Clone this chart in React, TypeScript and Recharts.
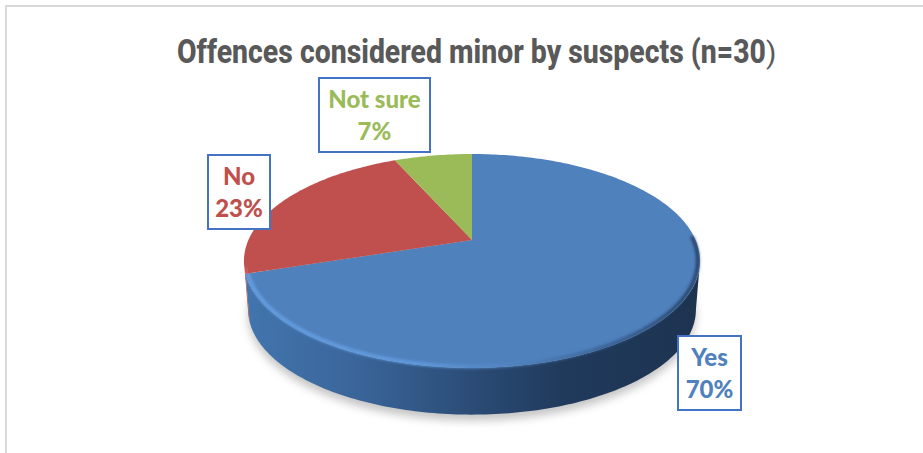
import React from "react";
import { PieChart, Pie, Cell } from "recharts";

const categories = ["Yes", "No", "Not sure"];
const counts = [21, 7, 2];
const sliceColors = ["#4f81bd", "#c0504d", "#9bbb59"];
const rows = categories.map((name, i) => ({ name, value: counts[i] }));

const boxes = [
  { x: 678, y: 336, w: 63, h: 74 },
  { x: 208, y: 155, w: 62, h: 74 },
  { x: 319, y: 78, w: 111, h: 74 },
];

const SQUASH = 0.46;
const PERSPECTIVE = 0.196;
const DEPTH = 49;
const BASE_SCALE = 0.982;
const FRONT_FROM = 101.3;
const FRONT_TO = 255;

function pt(cx: number, cy: number, R: number, deg: number, s = 1, dy = 0) {
  const t = (deg * Math.PI) / 180;
  const a = Math.sin(t);
  const b = -Math.cos(t);
  const d = 1 - PERSPECTIVE * b;
  return [cx + (s * R * a) / d, cy + dy + (s * R * SQUASH * b) / d];
}

function arc(cx: number, cy: number, R: number, from: number, to: number, s = 1, dy = 0) {
  const out: number[][] = [];
  const n = Math.max(2, Math.ceil(Math.abs(to - from)));
  for (let i = 0; i <= n; i++) out.push(pt(cx, cy, R, from + ((to - from) * i) / n, s, dy));
  return out;
}

const toPath = (p: number[][]) =>
  p.map((q, i) => `${i ? "L" : "M"}${q[0].toFixed(2)} ${q[1].toFixed(2)}`).join(" ");

function Slice(props: any) {
  const { cx, cy, outerRadius: R, startAngle, endAngle, fill, index } = props;
  const from = 90 - startAngle;
  const to = 90 - endAngle;
  const top = arc(cx, cy, R, from, to);
  const face = `M${cx} ${cy} ` + toPath(top).replace(/^M/, "L") + " Z";
  const wf = Math.max(from, FRONT_FROM);
  const wt = Math.min(to, FRONT_TO);
  const hasWall = wt > wf;
  const wall = hasWall
    ? toPath([...arc(cx, cy, R, wf, wt), ...arc(cx, cy, R, wt, wf, BASE_SCALE, DEPTH)]) + " Z"
    : "";
  const left = cx - R * 1.02;
  const right = cx + R * 1.02;
  return (
    <g>
      <defs>
        <filter id={`blur-${index}`} x="-20%" y="-20%" width="140%" height="140%">
          <feGaussianBlur stdDeviation="4" />
        </filter>
        <filter id={`soft-${index}`} x="-5%" y="-5%" width="110%" height="110%">
          <feGaussianBlur stdDeviation="1.4" />
        </filter>
        <linearGradient id={`wall-${index}`} gradientUnits="userSpaceOnUse" x1={left} x2={right} y1="0" y2="0">
          <stop offset="0" stopColor={index === 0 ? "#4275ae" : "#a8413e"} />
          <stop offset="0.25" stopColor="#3a659a" />
          <stop offset="0.5" stopColor="#2b4c76" />
          <stop offset="0.7" stopColor="#203a5c" />
          <stop offset="1" stopColor="#1d3350" />
        </linearGradient>
        <linearGradient id={`rim-${index}`} gradientUnits="userSpaceOnUse" x1={left} x2={right} y1="0" y2="0">
          <stop offset="0" stopColor="#6aa6ea" />
          <stop offset="0.38" stopColor="#64a0e6" />
          <stop offset="0.6" stopColor="#4f81bd" />
          <stop offset="0.8" stopColor="#345a8a" />
          <stop offset="1" stopColor="#1f3552" />
        </linearGradient>
      </defs>
      {index === 0 && (
        <path
          d={toPath(arc(cx, cy, R, 0, 360, BASE_SCALE, DEPTH + 6)) + " Z"}
          fill="#8c8c8c"
          opacity={0.5}
          filter={`url(#blur-${index})`}
        />
      )}
      {hasWall && <path d={wall} fill={`url(#wall-${index})`} />}
      <path d={face} fill={fill} />
      {hasWall && (
        <path
          d={toPath(arc(cx, cy, R, index === 0 ? 88 : wf, wt, 0.99))}
          fill="none"
          stroke={index === 0 ? `url(#rim-${index})` : "#d8625e"}
          strokeWidth={3}
          filter={`url(#soft-${index})`}
        />
      )}
    </g>
  );
}

function BoxLabel(props: any) {
  const { index, name, percent } = props;
  const b = boxes[index];
  const mid = b.x + b.w / 2;
  return (
    <g>
      <rect x={b.x} y={b.y} width={b.w} height={b.h} fill="#ffffff" stroke="#4472c4" strokeWidth={2} />
      <text
        textAnchor="middle"
        fontFamily="Lato, sans-serif"
        fontWeight={900}
        fontSize={24}
        fill={sliceColors[index]}
      >
        <tspan x={mid} y={b.y + 30}>{name}</tspan>
        <tspan x={mid} y={b.y + 62}>{`${Math.round(percent * 100)}%`}</tspan>
      </text>
    </g>
  );
}

export default function App() {
  return (
    <div style={{ position: "absolute", left: 0, top: 0, width: 923, height: 453, background: "#fff", overflow: "hidden" }}>
      <div
        style={{
          position: "absolute",
          left: 5,
          top: 5,
          width: 923,
          height: 453,
          borderTop: "2px solid #d9d9d9",
          borderLeft: "2px solid #d9d9d9",
        }}
      />
      <div style={{ position: "absolute", left: 0, top: 0 }}>
        <PieChart width={923} height={453} margin={{ top: 0, right: 0, bottom: 0, left: 0 }}>
          <text
            x={177}
            y={63}
            fontFamily="Roboto, sans-serif"
            fontWeight={800}
            fontSize={34}
            fill="#595959"
            textLength={589}
            lengthAdjust="spacingAndGlyphs"
          >
            Offences considered minor by suspects (n=30
          </text>
          <text x={766} y={63} fontFamily="Roboto, sans-serif" fontWeight={400} fontSize={30} fill="#595959">
            )
          </text>
          <Pie
            data={rows}
            dataKey="value"
            nameKey="name"
            cx={472}
            cy={240}
            innerRadius={0}
            outerRadius={223.6}
            startAngle={90}
            endAngle={-270}
            isAnimationActive={false}
            labelLine={false}
            label={BoxLabel}
            shape={Slice}
            stroke="none"
          >
            {rows.map((r, i) => (
              <Cell key={r.name} fill={sliceColors[i]} />
            ))}
          </Pie>
        </PieChart>
      </div>
    </div>
  );
}
